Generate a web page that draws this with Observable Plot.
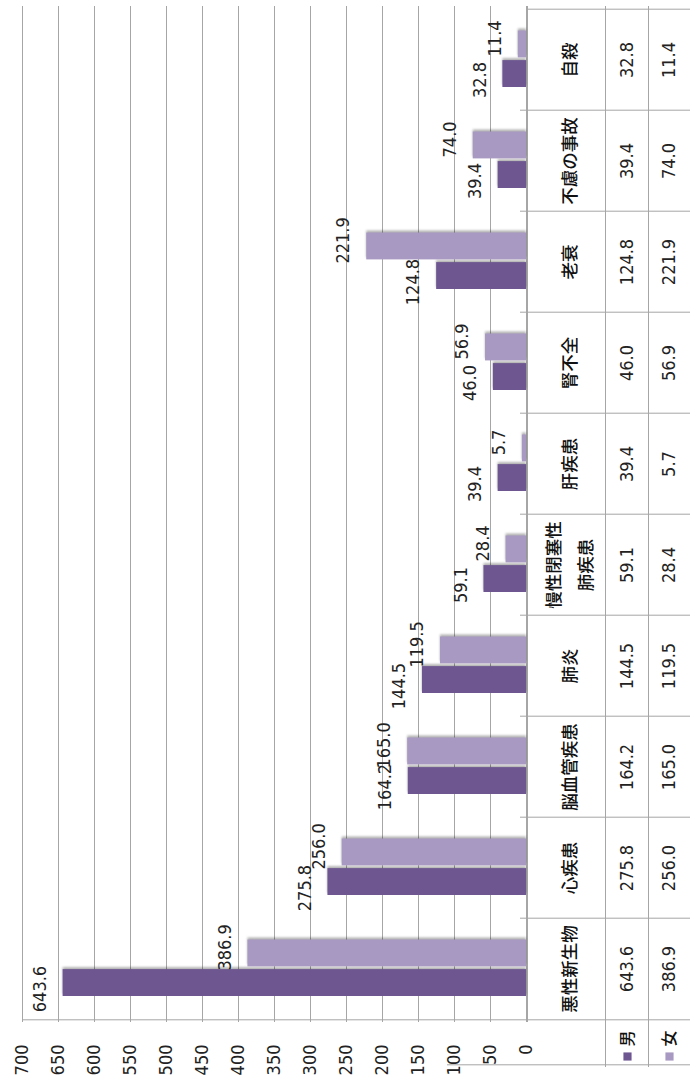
<!DOCTYPE html>
<html>
<head>
<meta charset="utf-8">
<script src="https://cdn.jsdelivr.net/npm/d3@7"></script>
<script src="https://cdn.jsdelivr.net/npm/@observablehq/plot@0.6"></script>
<style>
html, body { margin: 0; padding: 0; background: #fff; }
#chart svg { display: block; }
#chart svg g[aria-label="bar"] rect { filter: drop-shadow(0px -1.5px 1px rgba(0,0,0,0.3)); }
</style>
</head>
<body>
<div id="chart"></div>
<script>
// ---- data ----
const categories = ["悪性新生物", "心疾患", "脳血管疾患", "肺炎", "慢性閉塞性\n肺疾患", "肝疾患", "腎不全", "老衰", "不慮の事故", "自殺"];
const male   = [643.6, 275.8, 164.2, 144.5, 59.1, 39.4, 46.0, 124.8, 39.4, 32.8];
const female = [386.9, 256.0, 165.0, 119.5, 28.4, 5.7, 56.9, 221.9, 74.0, 11.4];
const seriesNames = ["男", "女"];
const seriesColors = ["#6e5791", "#a899c2"];
const xTicks = d3.range(0, 701, 50);

// ---- layout ----
const W = 690, H = 1075;
const mT = 6, mB = 53, mL = 22, mR = 164;
const bw = (H - mT - mB) / categories.length;
const yDomain = categories.slice().reverse();
const fmt = d3.format(".1f");
const numFont = '"Liberation Sans Narrow", "DejaVu Sans Condensed", "Arial Narrow", sans-serif';
const cjkFont = '"Noto Sans CJK JP", sans-serif';
const lineColor = "#a6a6a6";

const maleRows = categories.map((c, i) => ({cat: c, v: male[i]}));
const femaleRows = categories.map((c, i) => ({cat: c, v: female[i]}));

const barH = 27.5, outTop = 21.5, outBottom = 23;
const maleCenter = bw - outBottom - barH / 2 - bw / 2;
const femaleCenter = outTop + barH / 2 - bw / 2;
const colName = 39, colMale = 101, colFemale = 143;

const legendMarks = seriesNames.flatMap((s, i) => [
  Plot.text([s], {text: d => d, frameAnchor: "bottom-right", dx: i === 0 ? colMale : colFemale, dy: 16, rotate: -90, fontFamily: cjkFont, fontSize: 16, fontWeight: 500, textAnchor: "middle", lineAnchor: "middle", fill: "#111"}),
  Plot.dot([s], {frameAnchor: "bottom-right", dx: i === 0 ? colMale : colFemale, dy: 34, symbol: "square", r: 4.6, fill: seriesColors[i], stroke: null})
]);

const chart = Plot.plot({
  width: W, height: H,
  marginTop: mT, marginBottom: mB, marginLeft: mL, marginRight: mR,
  style: {fontFamily: numFont, fontSize: "18px", color: "#222", background: "#fff"},
  x: {domain: [0, 700], reverse: true, ticks: xTicks, tickSize: 0, tickPadding: 22, tickRotate: -90, label: null},
  y: {domain: yDomain, padding: 0, axis: null},
  marks: [
    // gridlines
    Plot.ruleX(xTicks, {stroke: lineColor, strokeWidth: 1}),
    // row boundaries (table + small ticks)
    Plot.ruleY(yDomain.slice(1), {y: d => d, dy: -bw / 2, x1: 0, x2: 0, insetLeft: -6, insetRight: -mR, stroke: lineColor}),
    Plot.ruleY([yDomain[0]], {y: d => d, dy: -bw / 2, x1: 0, x2: 0, insetLeft: 1, insetRight: -mR, stroke: lineColor}),
    Plot.ruleY([yDomain[yDomain.length - 1]], {y: d => d, dy: bw / 2, insetRight: -mR, stroke: lineColor}),
    // table columns
    Plot.ruleX([0], {dx: 1, stroke: lineColor}),
    Plot.ruleX([0], {dx: 79, insetBottom: -45, stroke: lineColor}),
    Plot.ruleX([0], {dx: 122, insetBottom: -45, stroke: lineColor}),
    Plot.ruleY([yDomain[yDomain.length - 1]], {y: d => d, dy: bw / 2 + 45, x1: 0, x2: 0, insetLeft: -79, insetRight: -mR, stroke: lineColor}),
    // bars
    Plot.barX(maleRows, {x1: 0, x2: "v", y: "cat", fill: seriesColors[0], insetTop: bw - outBottom - barH, insetBottom: outBottom}),
    Plot.barX(femaleRows, {x1: 0, x2: "v", y: "cat", fill: seriesColors[1], insetTop: outTop, insetBottom: bw - outTop - barH}),
    // value labels
    Plot.text(maleRows, {x: "v", y: "cat", text: d => fmt(d.v), rotate: -90, dx: -23, dy: maleCenter + 6, textAnchor: "middle", lineAnchor: "middle", fill: "#222"}),
    Plot.text(femaleRows, {x: "v", y: "cat", text: d => fmt(d.v), rotate: -90, dx: -23, dy: femaleCenter - 6, textAnchor: "middle", lineAnchor: "middle", fill: "#222"}),
    // table: category names
    Plot.text(categories, {y: d => d, text: d => d, frameAnchor: "right", dx: colName, rotate: -90, fontFamily: cjkFont, fontSize: 17.5, fontWeight: 500, lineHeight: 1.85, textAnchor: "middle", lineAnchor: "middle", fill: "#111"}),
    // table: values
    Plot.text(maleRows, {y: "cat", text: d => fmt(d.v), frameAnchor: "right", dx: colMale, rotate: -90, textAnchor: "middle", lineAnchor: "middle", fill: "#222"}),
    Plot.text(femaleRows, {y: "cat", text: d => fmt(d.v), frameAnchor: "right", dx: colFemale, rotate: -90, textAnchor: "middle", lineAnchor: "middle", fill: "#222"}),
    // legend row
    ...legendMarks
  ]
});
document.getElementById("chart").appendChild(chart);
</script>
</body>
</html>
